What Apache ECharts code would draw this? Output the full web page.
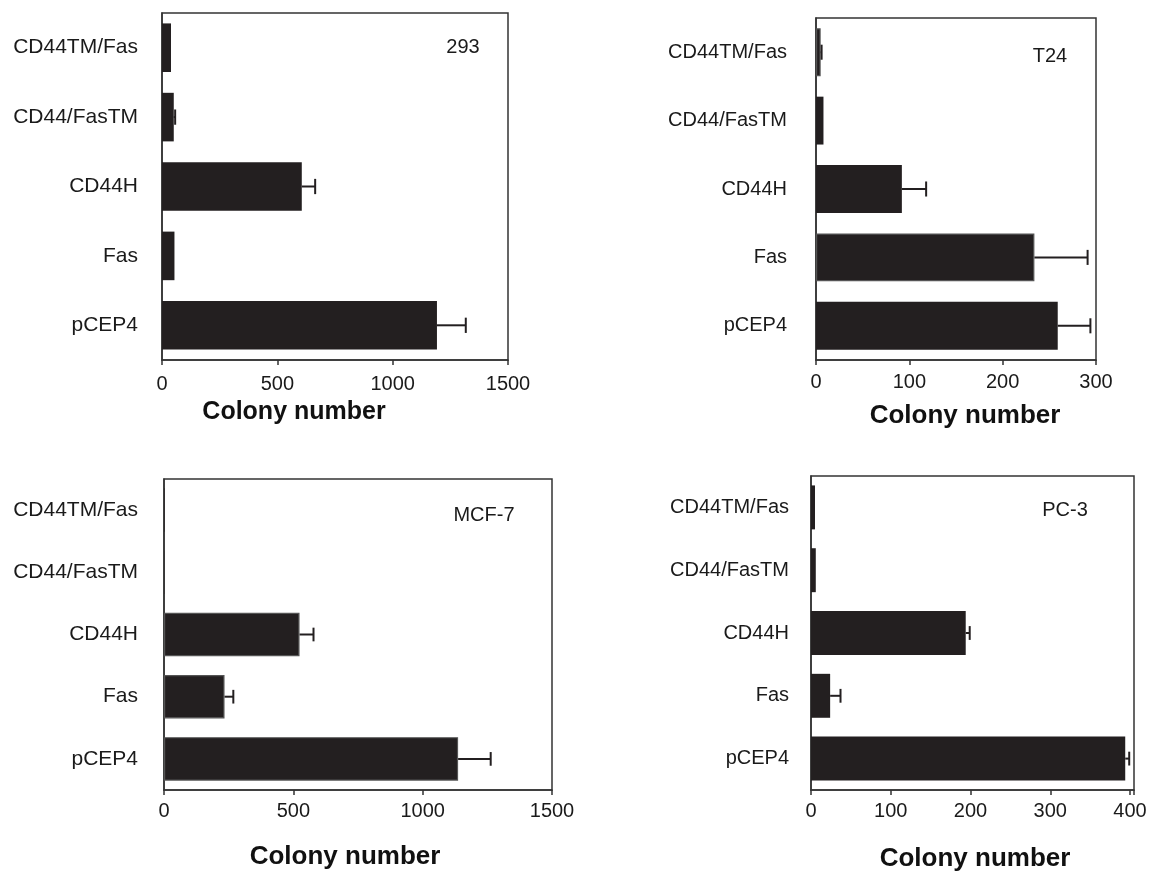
<!DOCTYPE html>
<html><head><meta charset="utf-8">
<script src="https://cdn.jsdelivr.net/npm/echarts@6/dist/echarts.min.js"></script>
<style>html,body{margin:0;padding:0;background:#fff}#c{width:1153px;height:872px}</style>
</head><body><div id="c"></div>
<script>
// ---- data ----
const categories = ['pCEP4', 'Fas', 'CD44H', 'CD44/FasTM', 'CD44TM/Fas'];
const panelNames = ['293', 'T24', 'MCF-7', 'PC-3'];
const values293 = [1192, 54, 606, 51, 39];
const errors293 = [125, 0, 58, 6, 0];
const valuesT24 = [259, 234, 92, 8, 5];
const errorsT24 = [35, 57, 26, 0, 1];
const valuesMCF7 = [1137, 234, 524, 1, 2];
const errorsMCF7 = [126, 34, 54, 0, 0];
const valuesPC3 = [394, 24, 194, 6, 5];
const errorsPC3 = [5, 13, 5, 0, 0];
const axisMax = [1500, 300, 1500, 405];
const axisInterval = [500, 100, 500, 100];
const axisTitle = 'Colony number';

const allValues = [values293, valuesT24, valuesMCF7, valuesPC3];
const allErrors = [errors293, errorsT24, errorsMCF7, errorsPC3];

// ---- layout ----
const grids = [
  {left: 162, top: 13, width: 346, height: 347},
  {left: 816, top: 18, width: 280, height: 342},
  {left: 164, top: 479, width: 388, height: 311},
  {left: 811, top: 476, width: 323, height: 314}
];
const catFont = [21, 20, 21, 20];
const catMargin = [24, 29, 26, 22];
const tickMargin = [14, 12, 11, 11];
const titleFont = [25, 26, 26, 26];
const titlePos = [[294, 412], [965, 416], [345, 857], [975, 859]];
const namePos = [[463, 47], [1050, 56], [484, 515], [1065, 510]];
const barBorder = [
  [0, 0, 0, 0, 0],
  [0, 1, 0, 0, 1],
  [1, 1, 1, 0, 0],
  [0, 0, 0, 0, 0]
];

const FONT = "'Liberation Sans', Arial, sans-serif";
const INK = '#231f20';
const TXT = '#1a1a1a';

function errItem(params, api) {
  const v = api.value(0), e = api.value(1), c = api.value(2);
  if (!(e > 0)) return null;
  const p0 = api.coord([v, c]);
  const p1 = api.coord([v + e, c]);
  const h = api.size([0, 1])[1] * 0.11;
  return {type: 'group', children: [
    {type: 'line', shape: {x1: p0[0], y1: p0[1], x2: p1[0], y2: p1[1]}, style: {stroke: INK, lineWidth: 2}},
    {type: 'line', shape: {x1: p1[0], y1: p1[1] - h, x2: p1[0], y2: p1[1] + h}, style: {stroke: INK, lineWidth: 2}}
  ]};
}

const option = {
  backgroundColor: '#fff',
  animation: false,
  grid: grids.map(g => Object.assign({show: true, borderColor: '#333', borderWidth: 1.5, backgroundColor: '#fff'}, g)),
  xAxis: grids.map((g, i) => ({
    type: 'value', gridIndex: i, min: 0, max: axisMax[i], interval: axisInterval[i],
    axisLine: {show: true, lineStyle: {color: '#333', width: 1.5}},
    axisTick: {show: true, length: 5, lineStyle: {color: '#333', width: 1.5}},
    splitLine: {show: false},
    axisLabel: {color: TXT, fontSize: 20, fontFamily: FONT, margin: tickMargin[i],
      formatter: v => (v % axisInterval[i] === 0 ? String(v) : '')}
  })),
  yAxis: grids.map((g, i) => ({
    type: 'category', gridIndex: i, data: categories,
    axisLine: {show: true, lineStyle: {color: '#333', width: 1.5}},
    axisTick: {show: false},
    axisLabel: {color: TXT, fontSize: catFont[i], fontFamily: FONT, margin: catMargin[i]}
  })),
  series: [],
  graphic: []
};

allValues.forEach((vals, i) => {
  option.series.push({
    type: 'bar', xAxisIndex: i, yAxisIndex: i, barCategoryGap: '30%',
    data: vals.map((v, k) => ({
      value: v,
      itemStyle: {color: INK, borderColor: barBorder[i][k] ? '#555' : INK, borderWidth: barBorder[i][k] ? 1.2 : 0}
    }))
  });
  option.series.push({
    type: 'custom', xAxisIndex: i, yAxisIndex: i, renderItem: errItem,
    encode: {x: 0, y: 2},
    data: vals.map((v, k) => [v, allErrors[i][k], k]),
    z: 3
  });
  option.graphic.push({
    type: 'text', x: titlePos[i][0], y: titlePos[i][1],
    style: {text: axisTitle, font: "bold " + titleFont[i] + "px " + FONT, fill: '#111', textAlign: 'center', textVerticalAlign: 'middle'}
  });
  option.graphic.push({
    type: 'text', x: namePos[i][0], y: namePos[i][1],
    style: {text: panelNames[i], font: "20px " + FONT, fill: TXT, textAlign: 'center', textVerticalAlign: 'middle'}
  });
});

const chart = echarts.init(document.getElementById('c'));
chart.setOption(option);
</script></body></html>
